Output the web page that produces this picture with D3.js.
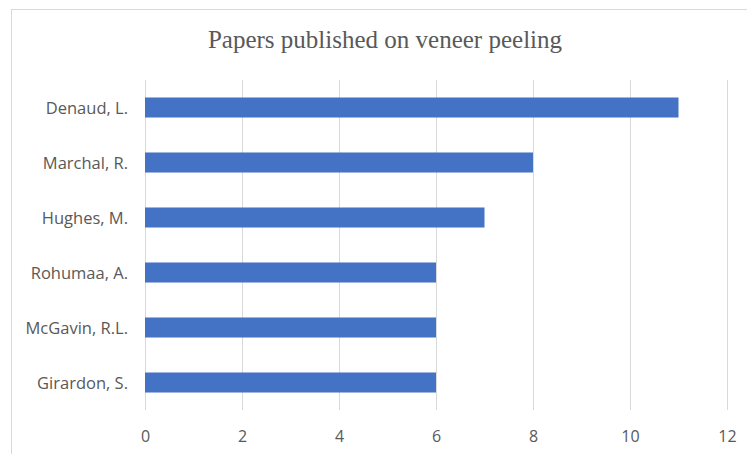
<!DOCTYPE html>
<html>
<head>
<meta charset="utf-8">
<script src="https://cdn.jsdelivr.net/npm/d3@7"></script>
<style>
  html, body { margin: 0; padding: 0; background: #fff; }
  svg { display: block; }
</style>
</head>
<body>
<svg id="chart" width="747" height="454"></svg>
<script>
const authors = ["Denaud, L.", "Marchal, R.", "Hughes, M.", "Rohumaa, A.", "McGavin, R.L.", "Girardon, S."];
const papers = [11, 8, 7, 6, 6, 6];
const xTicks = [0, 2, 4, 6, 8, 10, 12];
const title = "Papers published on veneer peeling";

const svg = d3.select("#chart");
const W = 747, H = 454;
const plot = { left: 145, right: 727, top: 80, bottom: 410 };
const labelFont = "'Open Sans', Lato, sans-serif";

// outer chart frame
svg.append("rect")
  .attr("x", 11.5).attr("y", 9.5)
  .attr("width", W + 20).attr("height", H + 20)
  .attr("fill", "#fff").attr("stroke", "#d9d9d9").attr("stroke-width", 1);

const x = d3.scaleLinear().domain([0, 12]).range([plot.left, plot.right]);
const y = d3.scaleBand().domain(authors).range([plot.top, plot.bottom]).paddingInner(0.636).paddingOuter(0.318);

// vertical gridlines
svg.append("g").selectAll("line").data(xTicks).join("line")
  .attr("x1", d => Math.round(x(d)) + 0.5).attr("x2", d => Math.round(x(d)) + 0.5)
  .attr("y1", plot.top).attr("y2", plot.bottom)
  .attr("stroke", "#d9d9d9").attr("stroke-width", 1);

// bars
svg.append("g").selectAll("rect").data(authors).join("rect")
  .attr("x", x(0))
  .attr("y", d => y(d))
  .attr("width", (d, i) => x(papers[i]) - x(0))
  .attr("height", y.bandwidth())
  .attr("fill", "#4472c4");

// x axis labels
const xAxis = d3.axisBottom(x).tickValues(xTicks).tickSize(0).tickPadding(0);
const gx = svg.append("g").attr("transform", `translate(0,${plot.bottom})`).call(xAxis);
gx.select(".domain").remove();
gx.selectAll("text")
  .attr("y", 32).attr("dy", null)
  .attr("fill", "#595959")
  .style("font-family", labelFont)
  .style("font-size", "16px");

// y axis labels
const yAxis = d3.axisLeft(y).tickSize(0).tickPadding(17);
const gy = svg.append("g").attr("transform", `translate(${plot.left},0)`).call(yAxis);
gy.select(".domain").remove();
gy.selectAll("text")
  .attr("dy", 6)
  .attr("fill", "#595959")
  .style("font-family", labelFont)
  .style("font-size", "16.5px");

// title
svg.append("text")
  .attr("x", 385).attr("y", 48)
  .attr("text-anchor", "middle")
  .attr("fill", "#595959")
  .style("font-family", "'Liberation Serif', 'Times New Roman', serif")
  .style("font-size", "25px")
  .text(title);
</script>
</body>
</html>
